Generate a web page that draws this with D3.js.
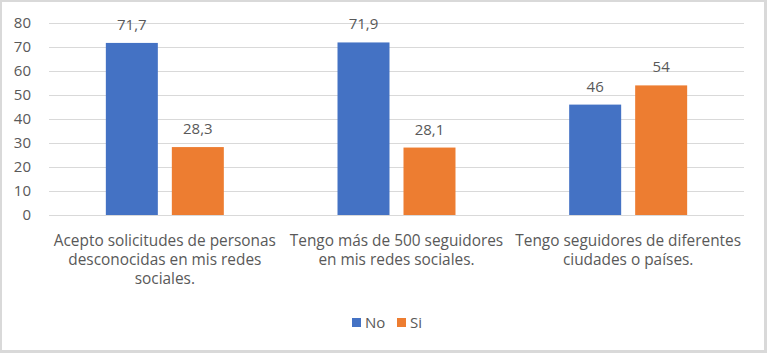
<!DOCTYPE html>
<html>
<head>
<meta charset="utf-8">
<script src="https://cdn.jsdelivr.net/npm/d3@7"></script>
<style>
  body { margin: 0; background: #fff; }
  svg { display: block; }
  text { font-family: "Open Sans", "Noto Sans", sans-serif; fill: #595959; }
</style>
</head>
<body>
<svg id="chart"></svg>
<script>
// Datos
const categories = [
  "Acepto solicitudes de personas desconocidas en mis redes sociales.",
  "Tengo más de 500 seguidores en mis redes sociales.",
  "Tengo seguidores de diferentes ciudades o países."
];
// Líneas de cada etiqueta de categoría
const categoryLines = [
  ["Acepto solicitudes de personas", "desconocidas en mis redes", "sociales."],
  ["Tengo más de 500 seguidores", "en mis redes sociales."],
  ["Tengo seguidores de diferentes", "ciudades o países."]
];
const seriesNames = ["No", "Si"];
const valuesNo = [71.7, 71.9, 46];
const valuesSi = [28.3, 28.1, 54];
const yTicks = [0, 10, 20, 30, 40, 50, 60, 70, 80];
const colors = ["#4472C4", "#ED7D31"];

const width = 767;
const height = 353;
const plotLeft = 49, plotRight = 744, plotTop = 23, plotBottom = 215;

const svg = d3.select("#chart")
    .attr("width", width)
    .attr("height", height);

// Fondo y borde
svg.append("rect")
    .attr("x", 0).attr("y", 0)
    .attr("width", width).attr("height", height)
    .attr("fill", "#d9d9d9");
svg.append("rect")
    .attr("x", 2).attr("y", 2)
    .attr("width", 762).attr("height", 348)
    .attr("fill", "#fff");

const y = d3.scaleLinear()
    .domain([0, 80])
    .range([plotBottom, plotTop]);

const x0 = d3.scaleBand()
    .domain(categories)
    .range([plotLeft, plotRight])
    .paddingInner(0.4907)
    .paddingOuter(0.4907 / 2);

const x1 = d3.scaleBand()
    .domain(seriesNames)
    .range([0, x0.bandwidth()])
    .paddingInner(0.2121);

// Líneas de cuadrícula
svg.append("g")
    .selectAll("line")
    .data(yTicks)
    .join("line")
    .attr("x1", plotLeft)
    .attr("x2", plotRight)
    .attr("y1", d => Math.round(y(d)) + 0.5)
    .attr("y2", d => Math.round(y(d)) + 0.5)
    .attr("stroke", "#d9d9d9")
    .attr("stroke-width", 1);

// Eje y
const yAxis = svg.append("g")
    .attr("transform", `translate(${plotLeft}, 0)`)
    .call(d3.axisLeft(y).tickValues(yTicks).tickSize(0).tickPadding(18));
yAxis.select(".domain").remove();
yAxis.selectAll("text")
    .attr("font-size", 15)
    .attr("fill", "#595959")
    .attr("font-family", "'Open Sans', sans-serif");

// Barras
const rows = categories.map((c, i) => ({
  cat: c,
  vals: [
    { s: "No", v: valuesNo[i] },
    { s: "Si", v: valuesSi[i] }
  ]
}));

const groups = svg.append("g")
    .selectAll("g")
    .data(rows)
    .join("g")
    .attr("transform", d => `translate(${x0(d.cat)}, 0)`);

groups.selectAll("rect")
    .data(d => d.vals)
    .join("rect")
    .attr("x", d => x1(d.s))
    .attr("y", d => y(d.v))
    .attr("width", x1.bandwidth())
    .attr("height", d => y(0) - y(d.v))
    .attr("fill", (d, i) => colors[i]);

// Etiquetas de datos
groups.selectAll("text")
    .data(d => d.vals)
    .join("text")
    .attr("x", d => x1(d.s) + x1.bandwidth() / 2)
    .attr("y", d => y(d.v) - 13)
    .attr("text-anchor", "middle")
    .attr("font-size", 15)
    .text(d => String(d.v).replace(".", ","));

// Etiquetas de categoría
const catG = svg.append("g")
    .selectAll("text")
    .data(categories)
    .join("text")
    .attr("text-anchor", "middle")
    .attr("font-size", 15.4)
    .attr("x", d => x0(d) + x0.bandwidth() / 2);
catG.selectAll("tspan")
    .data((d, i) => categoryLines[i])
    .join("tspan")
    .attr("x", function () { return d3.select(this.parentNode).attr("x"); })
    .attr("y", (d, i) => 246 + i * 19)
    .text(d => d);

// Leyenda
const legend = svg.append("g");
const legendX = [352, 397];
seriesNames.forEach((s, i) => {
  legend.append("rect")
      .attr("x", legendX[i])
      .attr("y", 318)
      .attr("width", 9)
      .attr("height", 9)
      .attr("fill", colors[i]);
  legend.append("text")
      .attr("x", legendX[i] + 13)
      .attr("y", 328)
      .attr("font-size", 15)
      .text(s);
});
</script>
</body>
</html>
